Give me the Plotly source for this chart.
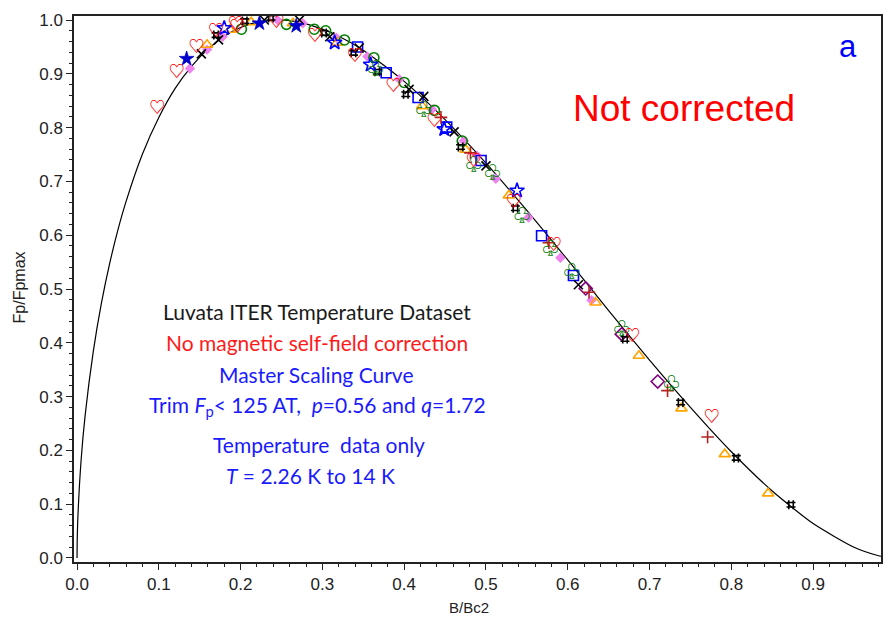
import plotly.graph_objects as go

# ---- master scaling curve (p=0.56, q=1.72) ----
curve_b = [0.0, 0.0002, 0.001, 0.005, 0.01, 0.02, 0.03, 0.04, 0.05, 0.06, 0.08, 0.10, 0.12, 0.14,
           0.16, 0.18, 0.20, 0.22, 0.2456, 0.26, 0.28, 0.30, 0.32, 0.35, 0.40, 0.45, 0.50, 0.55,
           0.60, 0.65, 0.70, 0.75, 0.80, 0.85, 0.90, 0.95, 0.98, 0.99]
curve_f = [0.0, 0.030, 0.074, 0.182, 0.266, 0.385, 0.475, 0.548, 0.610, 0.663, 0.751, 0.819, 0.873, 0.914,
           0.946, 0.970, 0.986, 0.996, 1.000, 0.999, 0.993, 0.983, 0.970, 0.944, 0.886, 0.815, 0.734, 0.646,
           0.554, 0.460, 0.368, 0.280, 0.1975, 0.1245, 0.064, 0.020, 0.0042, 0.0013]

# ---- data series ----
heart_b = [0.098, 0.122, 0.146, 0.170, 0.194, 0.196, 0.244, 0.291, 0.340, 0.387, 0.437, 0.485, 0.534, 0.583, 0.679, 0.776]
heart_f = [0.835, 0.902, 0.948, 0.978, 0.991, 0.985, 0.994, 0.969, 0.932, 0.875, 0.810, 0.737, 0.659, 0.580, 0.411, 0.260]

starf_b = [0.134, 0.223, 0.268]
starf_f = [0.928, 0.994, 0.989]

staro_b = [0.180, 0.315, 0.359, 0.449, 0.538]
staro_f = [0.985, 0.958, 0.917, 0.797, 0.683]

tri_b = [0.159, 0.187, 0.213, 0.264, 0.318, 0.422, 0.475, 0.528, 0.634, 0.687, 0.739, 0.792, 0.845]
tri_f = [0.954, 0.982, 0.996, 0.994, 0.958, 0.840, 0.759, 0.674, 0.475, 0.376, 0.278, 0.193, 0.120]

vio_b = [0.138, 0.159, 0.178, 0.245, 0.276, 0.317, 0.355, 0.394, 0.434, 0.473, 0.489, 0.512, 0.552, 0.591, 0.629]
vio_f = [0.910, 0.945, 0.969, 1.000, 0.994, 0.967, 0.932, 0.890, 0.834, 0.775, 0.748, 0.705, 0.633, 0.558, 0.479]

gcirc_b = [0.201, 0.256, 0.290, 0.304, 0.327, 0.363, 0.400, 0.437, 0.471]
gcirc_f = [0.983, 0.992, 0.983, 0.980, 0.963, 0.930, 0.884, 0.832, 0.775]

club_b = [0.365, 0.424, 0.485, 0.508, 0.544, 0.579, 0.605, 0.666, 0.727]
club_f = [0.908, 0.831, 0.729, 0.715, 0.635, 0.573, 0.530, 0.424, 0.322]

bx_b = [0.152, 0.173, 0.229, 0.272, 0.309, 0.345, 0.406, 0.424, 0.461, 0.500, 0.613]
bx_f = [0.937, 0.963, 1.000, 1.000, 0.969, 0.948, 0.871, 0.858, 0.792, 0.729, 0.508]

hash_b = [0.170, 0.205, 0.237, 0.302, 0.338, 0.367, 0.402, 0.469, 0.536, 0.670, 0.738, 0.806, 0.873]
hash_f = [0.972, 0.998, 1.004, 0.976, 0.939, 0.904, 0.862, 0.764, 0.650, 0.407, 0.289, 0.186, 0.099]

sq_b = [0.343, 0.378, 0.417, 0.452, 0.494, 0.568, 0.607]
sq_f = [0.950, 0.902, 0.856, 0.801, 0.739, 0.599, 0.525]

plus_b = [0.445, 0.481, 0.577, 0.626, 0.722, 0.771]
plus_f = [0.819, 0.753, 0.586, 0.494, 0.311, 0.225]

dia_b = [0.622, 0.666, 0.710]
dia_f = [0.501, 0.416, 0.328]

x_ticks = [0.0, 0.1, 0.2, 0.3, 0.4, 0.5, 0.6, 0.7, 0.8, 0.9]
y_ticks = [0.0, 0.1, 0.2, 0.3, 0.4, 0.5, 0.6, 0.7, 0.8, 0.9, 1.0]

fig = go.Figure()
fig.add_trace(go.Scatter(x=curve_b, y=curve_f, mode="lines",
                         line=dict(color="black", width=1.2, shape="spline", smoothing=0.6),
                         hoverinfo="skip"))


def sym(x, y, symbol, color, size=9, width=1.6):
    fig.add_trace(go.Scatter(x=x, y=y, mode="markers",
                             marker=dict(symbol=symbol, size=size, color=color,
                                         line=dict(color=color, width=width))))


def glyph(x, y, ch, color, size=15):
    fig.add_trace(go.Scatter(x=x, y=y, mode="text", text=[ch] * len(x),
                             textposition="middle center",
                             textfont=dict(family="Noto Sans CJK JP", size=size, color=color,
                                           weight="bold")))


sym(vio_b, vio_f, "diamond", "#ee82ee", size=8, width=0)
sym(tri_b, tri_f, "triangle-up-open", "#ffa500", size=10)
sym(gcirc_b, gcirc_f, "circle-open", "#008000", size=10)
sym(sq_b, sq_f, "square-open", "#0000ff", size=10)
sym(dia_b, dia_f, "diamond-open", "#800080", size=10)
sym(plus_b, plus_f, "cross-thin-open", "#b22222", size=9, width=1.6)
sym(bx_b, bx_f, "x-thin-open", "black", size=9, width=1.6)
sym(hash_b, hash_f, "hash-open", "black", size=9, width=1.6)
sym(staro_b, staro_f, "star-open", "#0000ff", size=11)
sym(starf_b, starf_f, "star", "#0000cc", size=11, width=0.8)
glyph(club_b, club_f, "\u2667", "#007a00", size=17)
glyph(heart_b, heart_f, "\u2661", "#ff0000", size=16)


def px(xp, yp):
    return (xp - 77) / 820.0, (558 - yp) / 543.0


TXT = "Lato"
lines = [
    ("Luvata ITER Temperature Dataset", "#1a1a1a", 318, 309),
    ("No magnetic self-field correction", "#ff1a1a", 318, 340),
    ("Master Scaling Curve", "#1a1aff", 317, 373),
    ("Trim <i>F</i><sub>p</sub>< 125 AT,  <i>p</i>=0.56 and <i>q</i>=1.72", "#1a1aff", 318, 405),
    ("Temperature  data only", "#1a1aff", 320, 443),
    ("<i>T</i> = 2.26 K to 14 K", "#1a1aff", 311, 475),
]
for t, c, xp, yp in lines:
    xx, yy = px(xp, yp)
    fig.add_annotation(x=xx, y=yy, xref="x", yref="y", text=t, showarrow=False,
                       font=dict(family=TXT, size=21, color=c), xanchor="center", yanchor="middle")

xx, yy = px(686, 104)
fig.add_annotation(x=xx, y=yy, xref="x", yref="y", text="Not corrected", showarrow=False,
                   font=dict(family="Liberation Sans, Arial", size=37, color="#ff0000"),
                   xanchor="center", yanchor="middle")
xx, yy = px(850, 42)
fig.add_annotation(x=xx, y=yy, xref="x", yref="y", text="a", showarrow=False,
                   font=dict(family="Liberation Sans, Arial", size=31, color="#0000ff"),
                   xanchor="center", yanchor="middle")

fig.add_annotation(x=0.49, y=-0.084, xref="paper", yref="paper", text="B/Bc2", showarrow=False,
                   font=dict(family="Liberation Sans, Arial", size=15, color="#222"),
                   xanchor="center", yanchor="middle")
fig.add_annotation(x=-0.068, y=0.503, xref="paper", yref="paper", text="Fp/Fpmax", showarrow=False,
                   textangle=-90,
                   font=dict(family="Liberation Sans, Arial", size=16, color="#222"),
                   xanchor="center", yanchor="middle")

axis_common = dict(showline=True, linecolor="#222", linewidth=1.5, mirror=True,
                   ticks="outside", ticklen=6, tickwidth=1.2, tickcolor="#222",
                   showgrid=False, zeroline=False,
                   tickfont=dict(family="Liberation Sans, Arial", size=17, color="#222"),
                   minor=dict(ticks="outside", ticklen=3, tickwidth=1, tickcolor="#222", dtick=0.02,
                              showgrid=False))

fig.update_xaxes(range=[-0.0037, 0.983], tickvals=x_ticks, ticktext=[f"{v:.1f}" for v in x_ticks],
                 **axis_common)
fig.update_yaxes(range=[-0.0075, 1.0075], tickvals=y_ticks, ticktext=[f"{v:.1f}" for v in y_ticks],
                 **axis_common)

fig.update_layout(width=894, height=634, showlegend=False,
                  margin=dict(l=74, r=11, t=11, b=72),
                  plot_bgcolor="white", paper_bgcolor="white")

fig.write_html("out.html")
